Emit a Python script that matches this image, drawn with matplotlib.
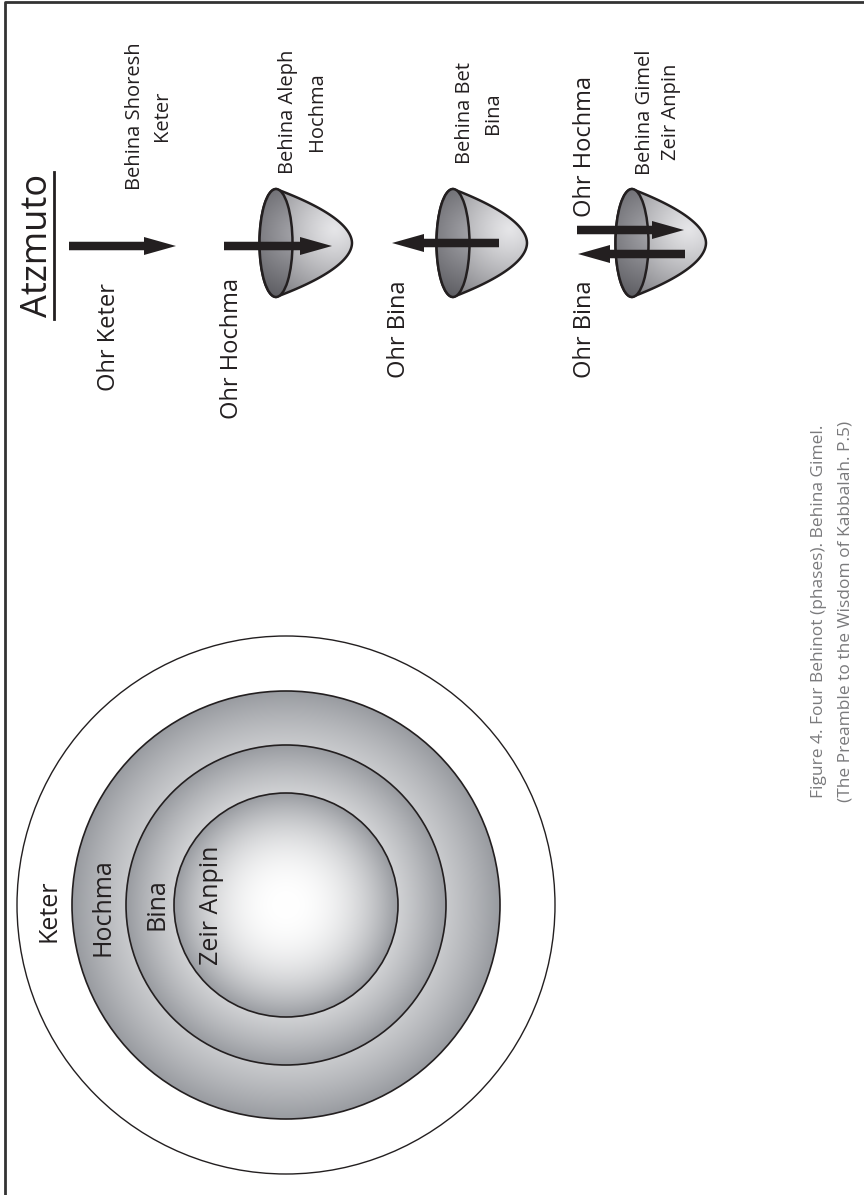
import numpy as np
import matplotlib.pyplot as plt
from matplotlib.patches import Circle, Ellipse, PathPatch
from matplotlib.path import Path

plt.rcParams['font.family'] = ['Open Sans', 'DejaVu Sans']

# rings of the left drawing (outer to inner)
ring_names = ['Keter', 'Hochma', 'Bina', 'Zeir Anpin']
ring_radii = [269, 214, 160, 112]
ring_center = (286, 905)
ring_label_x = [56, 110, 163, 218]
ring_label_y = [911, 907, 904, 905]

# cups (vessels) of Behina Aleph, Bet, Gimel
cup_rim_x = [276, 453, 632]
cup_depth = [76, 74, 74]
cup_y = 243

# arrows: tail x, tip x, y
arrow_tail = [69, 224, 499, 577, 685]
arrow_tip = [176, 332, 392, 684, 578]
arrow_y = [246, 246, 243, 230, 254]

# light labels
ohr_labels = ['Ohr Keter', 'Ohr Hochma', 'Ohr Bina', 'Ohr Bina']
ohr_x = [115, 238, 405, 591]
ohr_end = [283, 278, 280, 280]

behina_line1 = ['Behina Shoresh', 'Behina Aleph', 'Behina Bet', 'Behina Gimel']
behina_line2 = ['Keter', 'Hochma', 'Bina', 'Zeir Anpin']
behina_x1 = [140, 293, 470, 650]
behina_x2 = [167, 322, 498, 676]
behina_y = [116, 112, 113, 112]

caption = ['Figure 4. Four Behinot (phases). Behina Gimel.',
           '(The Preamble to the Wisdom of Kabbalah. P.5)']

W, H = 864, 1195
fig = plt.figure(figsize=(W / 100, H / 100), dpi=100)
ax = fig.add_axes([0, 0, 1, 1])
ink = '#231f20'


def grad_fill(patch, func, ext, z):
    x0, x1, y0, y1 = ext
    X, Y = np.meshgrid(np.linspace(x0, x1, 300), np.linspace(y0, y1, 300))
    img = func(X, Y)
    im = ax.imshow(img, extent=(x0, x1, y1, y0), origin='upper',
                   interpolation='bilinear', aspect='auto', zorder=z)
    im.set_clip_path(patch)


def radial(cx, cy, R, c_in, c_out, p):
    c_in = np.array(c_in); c_out = np.array(c_out)
    def f(X, Y):
        t = np.clip(np.hypot(X - cx, Y - cy) / R, 0, 1) ** p
        return c_in * (1 - t)[..., None] + c_out * t[..., None]
    return f


# frame
ax.plot([5, 5, W], [H, 2, 2], color='#333333', lw=2, zorder=1)

# rings
cx, cy = ring_center
for i, r in enumerate(ring_radii):
    circ = Circle((cx, cy), r, facecolor='none', edgecolor=ink,
                  lw=1.0 if i == 0 else 1.2, zorder=3 + i)
    ax.add_patch(circ)
    if i > 0:
        grad_fill(circ, radial(cx, cy, r, (1, 1, 1), (0.60, 0.61, 0.63), 2.2),
                  (cx - r, cx + r, cy - r, cy + r), 2 + i)
for name, lx, ly in zip(ring_names, ring_label_x, ring_label_y):
    ax.text(lx, ly, name, rotation=90, rotation_mode='anchor', ha='center',
            va='baseline', fontsize=18, color=ink, zorder=10)

# cups
h, a = 54, 16.5
for rx, L in zip(cup_rim_x, cup_depth):
    s = np.linspace(-1, 1, 80)
    bowl = list(zip(rx + L * (1 - np.abs(s) ** 1.9), cup_y + s * h))
    th = np.linspace(np.pi / 2, 3 * np.pi / 2, 40)
    bowl += list(zip(rx + a * np.cos(th), cup_y + h * np.sin(th)))
    bp = PathPatch(Path(bowl, closed=True), facecolor='none', edgecolor=ink,
                   lw=1.8, zorder=12)
    ax.add_patch(bp)
    grad_fill(bp, radial(rx + L - 18, cup_y - 14, 100, (0.90, 0.90, 0.91),
                         (0.40, 0.40, 0.42), 1.2),
              (rx - a, rx + L, cup_y - h, cup_y + h), 11)
    rim = Ellipse((rx, cup_y), 2 * a, 2 * h, facecolor='none', edgecolor=ink,
                  lw=1.8, zorder=14)
    ax.add_patch(rim)
    grad_fill(rim, radial(rx + a + 6, cup_y - 10, 70, (0.66, 0.66, 0.68),
                          (0.36, 0.36, 0.38), 1.0),
              (rx - a, rx + a, cup_y - h, cup_y + h), 13)

# arrows
for x0, x1, y in zip(arrow_tail, arrow_tip, arrow_y):
    ax.arrow(x0, y, x1 - x0, 0, width=8.5, head_width=18, head_length=32,
             length_includes_head=True, color=ink, lw=0, zorder=20)

# right side texts
ax.text(47, 245, 'Atzmuto', rotation=90, rotation_mode='anchor', ha='center',
        va='baseline', fontsize=26, color=ink)
ax.plot([54, 54], [172, 319], color=ink, lw=2)

for t, x, e in zip(ohr_labels, ohr_x, ohr_end):
    ax.text(x, e, t, rotation=90, rotation_mode='anchor', ha='right',
            va='baseline', fontsize=17, color=ink)
ax.text(591, 217, 'Ohr Hochma', rotation=90, rotation_mode='anchor', ha='left',
        va='baseline', fontsize=17, color=ink)

for t1, t2, x1, x2, y in zip(behina_line1, behina_line2, behina_x1, behina_x2,
                             behina_y):
    ax.text(x1, y, t1, rotation=90, rotation_mode='anchor', ha='center',
            va='baseline', fontsize=14.5, color=ink)
    ax.text(x2, y, t2, rotation=90, rotation_mode='anchor', ha='center',
            va='baseline', fontsize=14.5, color=ink)

for t, x in zip(caption, [823, 850]):
    ax.text(x, 611, t, rotation=90, rotation_mode='anchor', ha='center',
            va='baseline', fontsize=12.5, color='#7a7a7c')

ax.set_xlim(0, W)
ax.set_ylim(H, 0)
ax.axis('off')
fig.savefig('out.png', dpi=100, facecolor='white')
